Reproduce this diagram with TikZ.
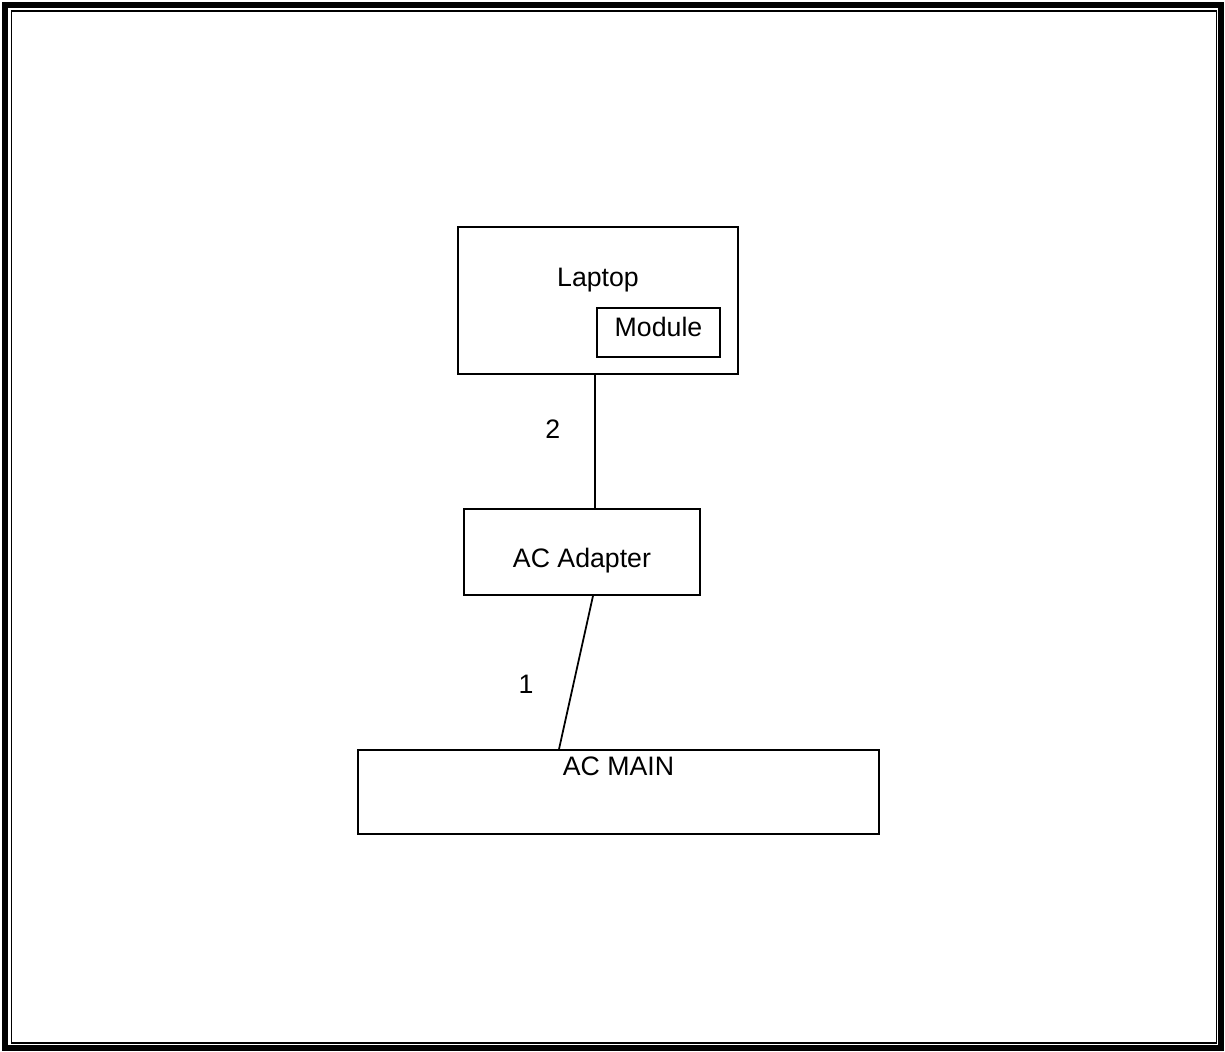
\documentclass[tikz,border=0pt]{standalone}
\usepackage{fontspec}
\setmainfont{Liberation Sans}
\begin{document}
\begin{tikzpicture}[x=0.02cm,y=-0.02cm,font=\fontsize{15.2}{18}\selectfont,
	box/.style={draw,line width=1pt,rectangle,inner sep=0pt},
	wire/.style={line width=1pt}]
	\useasboundingbox (0,0) rectangle (1225,1052);
	%frame
	\draw[line width=3.2pt] (5,5) rectangle (1221,1048);
	\draw[line width=1.1pt] (11.5,11) rectangle (1216.5,1043);
	
	\node[box,minimum width=280*0.02cm,minimum height=147*0.02cm,label={[yshift=0.41cm]center:Laptop}] (laptop) at (598,300.5) {};
	\node[box,minimum width=123*0.02cm,minimum height=49*0.02cm,label={[yshift=0.12cm]center:Module}] (module) at (658.5,332.5) {};
	\node[box,minimum width=236*0.02cm,minimum height=86*0.02cm,label={[yshift=-0.18cm]center:AC Adapter}] (adapter) at (582,552) {};
	\node[box,minimum width=521*0.02cm,minimum height=84*0.02cm,label={[yshift=0.52cm]center:AC MAIN}] (acmain) at (618.5,792) {};
	
	\draw[wire] ([xshift=-0.06cm]laptop.south) -- node[pos=0.41,left=0.56cm]{2} ([xshift=0.26cm]adapter.north);
	\draw[wire] ([xshift=0.22cm]adapter.south) -- node[pos=0.58,left=0.66cm]{1} ([xshift=-1.19cm]acmain.north);
\end{tikzpicture}
\end{document}
